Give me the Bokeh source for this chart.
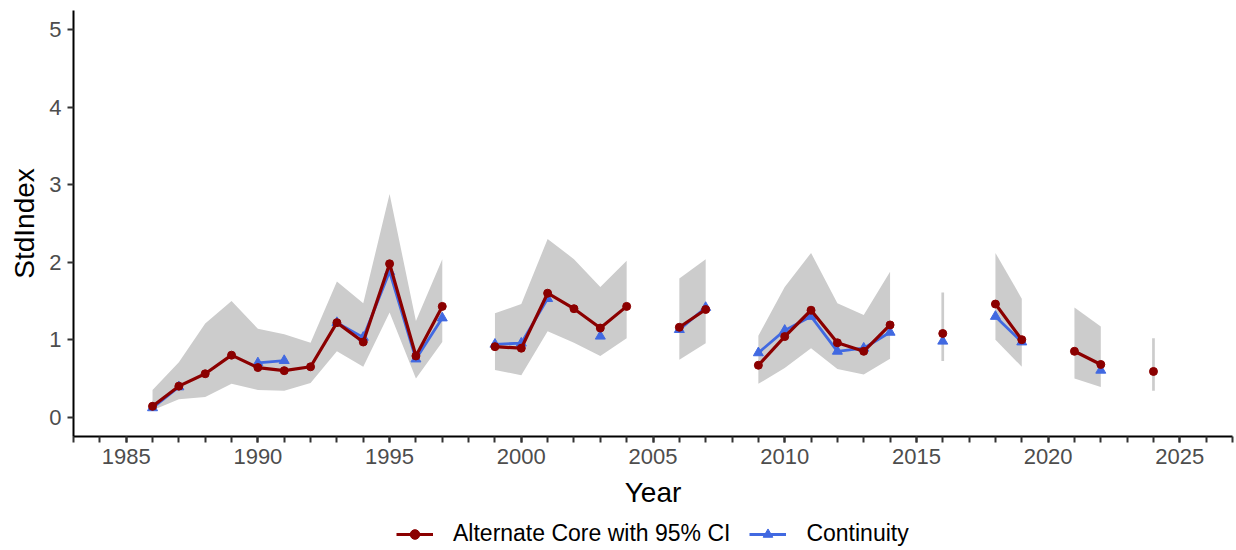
import math
from bokeh.plotting import figure
from bokeh.layouts import column
from bokeh.models import (Range1d, FixedTicker, Legend, LegendItem, ColumnDataSource)
from bokeh.embed import file_html
from bokeh.resources import INLINE

nan = float("nan")

years = list(range(1986, 2025))
# Alternate Core index (red)
alt = [0.14, 0.40, 0.56, 0.80, 0.64, 0.60, 0.65, 1.22, 0.97, 1.98, 0.79, 1.43, nan,
       0.91, 0.89, 1.60, 1.40, 1.15, 1.43, nan, 1.16, 1.39, nan,
       0.67, 1.04, 1.38, 0.96, 0.85, 1.19, nan, 1.08, nan,
       1.46, 1.00, nan, 0.85, 0.68, nan, 0.59]
alt_lower = [0.09, 0.23, 0.26, 0.43, 0.35, 0.34, 0.44, 0.85, 0.65, 1.35, 0.50, 0.97, nan,
             0.61, 0.54, 1.11, 0.96, 0.79, 1.02, nan, 0.74, 0.955, nan,
             0.43, 0.635, 0.89, 0.62, 0.55, 0.755, nan, 0.725, nan,
             1.00, 0.65, nan, 0.50, 0.39, nan, 0.34]
alt_upper = [0.35, 0.71, 1.21, 1.50, 1.14, 1.07, 0.96, 1.75, 1.47, 2.88, 1.24, 2.04, nan,
             1.34, 1.46, 2.30, 2.04, 1.68, 2.02, nan, 1.79, 2.04, nan,
             1.05, 1.68, 2.12, 1.47, 1.32, 1.876, nan, 1.61, nan,
             2.12, 1.53, nan, 1.415, 1.17, nan, 1.02]
# Continuity index (blue)
cont = [0.12, 0.39, nan, nan, 0.70, 0.73, nan, 1.22, 1.03, 1.88, 0.75, 1.28, nan,
        0.94, 0.955, 1.53, nan, 1.045, nan, nan, 1.13, 1.415, nan,
        0.83, 1.12, 1.30, 0.85, 0.89, 1.095, nan, 0.98, nan,
        1.30, 0.97, nan, nan, 0.605, nan, nan]

series_labels = ["Alternate Core with 95% CI", "Continuity"]
x_ticks = [1985, 1990, 1995, 2000, 2005, 2010, 2015, 2020, 2025]
y_ticks = [0, 1, 2, 3, 4, 5]

RED = "#8B0000"
BLUE = "#4169E1"
GREY = "#CCCCCC"
FONT = "Liberation Sans"

p = figure(width=1236, height=510, output_backend="svg", toolbar_location=None,
           x_range=Range1d(1983, 2027), y_range=Range1d(-0.25, 5.25),
           min_border_left=73, min_border_right=4, min_border_top=10, min_border_bottom=72)
p.outline_line_color = None
p.xgrid.visible = False
p.ygrid.visible = False
p.background_fill_color = "white"
p.border_fill_color = "white"

# ribbon: split into contiguous groups
groups = []
cur = []
for yr, lo, hi in zip(years, alt_lower, alt_upper):
    if math.isnan(lo):
        if cur:
            groups.append(cur)
        cur = []
    else:
        cur.append((yr, lo, hi))
if cur:
    groups.append(cur)
for g in groups:
    gx = [t[0] for t in g]
    glo = [t[1] for t in g]
    ghi = [t[2] for t in g]
    if len(g) > 1:
        p.varea(x=gx, y1=glo, y2=ghi, fill_color=GREY, fill_alpha=1.0)
    else:
        p.segment(x0=gx, y0=glo, x1=gx, y1=ghi, line_color=GREY, line_width=2.7)

src = ColumnDataSource(dict(year=years, alt=alt, cont=cont))
p.line("year", "cont", source=src, line_color=BLUE, line_width=2.8)
p.scatter("year", "cont", source=src, marker="triangle", size=10,
          fill_color=BLUE, line_color=BLUE)
p.line("year", "alt", source=src, line_color=RED, line_width=3.2)
p.scatter("year", "alt", source=src, marker="circle", size=8,
          fill_color=RED, line_color=RED)

for ax in (p.xaxis[0], p.yaxis[0]):
    ax.axis_line_color = "black"
    ax.axis_line_width = 2
    ax.major_tick_line_color = "#333333"
    ax.major_tick_line_width = 2
    ax.minor_tick_line_color = "#333333"
    ax.minor_tick_line_width = 2
    ax.major_tick_out = 6
    ax.major_tick_in = 0
    ax.minor_tick_out = 6
    ax.minor_tick_in = 0
    ax.major_label_text_font = FONT
    ax.major_label_text_font_size = "22px"
    ax.major_label_text_color = "#4D4D4D"
    ax.axis_label_text_font = FONT
    ax.axis_label_text_font_size = "28px"
    ax.axis_label_text_font_style = "normal"
    ax.axis_label_text_color = "black"
    ax.major_label_standoff = 6

p.xaxis[0].ticker = FixedTicker(ticks=x_ticks, minor_ticks=list(range(1983, 2028)))
p.yaxis[0].ticker = FixedTicker(ticks=y_ticks, minor_ticks=[])
p.xaxis[0].axis_label = "Year"
p.yaxis[0].axis_label = "StdIndex"
p.xaxis[0].axis_label_standoff = 10
p.yaxis[0].axis_label_standoff = 6

# legend strip
lf = figure(width=1236, height=40, output_backend="svg", toolbar_location=None,
            x_range=Range1d(0, 1), y_range=Range1d(0, 1),
            x_axis_type=None, y_axis_type=None, min_border=0)
lf.outline_line_color = None
lf.xgrid.visible = False
lf.ygrid.visible = False
# proxy data lies outside the visible range; only the legend glyphs show
proxy = ColumnDataSource(dict(x=[-5, -4], y=[-5, -5]))
l1 = lf.line("x", "y", source=proxy, line_color=RED, line_width=3.2)
m1 = lf.scatter("x", "y", source=proxy, marker="circle", size=6, fill_color=RED, line_color=RED)
l2 = lf.line("x", "y", source=proxy, line_color=BLUE, line_width=3)
m2 = lf.scatter("x", "y", source=proxy, marker="triangle", size=7, fill_color=BLUE, line_color=BLUE)
legend = Legend(items=[LegendItem(label=series_labels[0], renderers=[l1, m1]),
                       LegendItem(label=series_labels[1], renderers=[l2, m2])],
                orientation="horizontal", location=(323, 3),
                glyph_width=37, glyph_height=24, label_standoff=20, spacing=19,
                padding=0, margin=0, border_line_color=None, background_fill_alpha=0,
                label_text_font_size="23px", label_text_font=FONT,
                label_text_color="black", label_height=24)
lf.add_layout(legend, "center")

open("out.html", "w").write(file_html(column(p, lf, spacing=0), INLINE))
